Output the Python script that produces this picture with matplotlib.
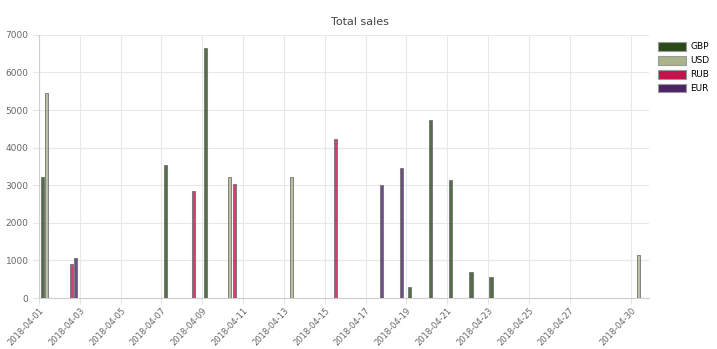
import matplotlib
matplotlib.use("Agg")
import matplotlib.pyplot as plt
import matplotlib.dates as mdates
from matplotlib.patches import Patch
from matplotlib.transforms import ScaledTranslation
import pandas as pd

# sales data
stamps = ["2018-04-01 04:00", "2018-04-01 08:30", "2018-04-02 13:40", "2018-04-02 18:40",
          "2018-04-07 04:20", "2018-04-08 13:10", "2018-04-09 04:00", "2018-04-10 08:20",
          "2018-04-10 13:30", "2018-04-13 08:30", "2018-04-15 12:30", "2018-04-17 18:20",
          "2018-04-18 18:00", "2018-04-19 04:00", "2018-04-20 04:00", "2018-04-21 03:30",
          "2018-04-22 04:00", "2018-04-23 03:30", "2018-04-30 08:40"]
amounts = [3230, 5450, 910, 1060, 3540, 2860, 6660, 3210, 3030, 3210, 4220, 3005,
           3465, 290, 4740, 3140, 690, 565, 1150]
currency = ["GBP", "USD", "RUB", "EUR", "GBP", "RUB", "GBP", "USD", "RUB", "USD", "RUB",
            "EUR", "EUR", "GBP", "GBP", "GBP", "GBP", "GBP", "USD"]

currencies = ["GBP", "USD", "RUB", "EUR"]
colors = {"GBP": "#2b4a1a", "USD": "#a9b48a", "RUB": "#c8104a", "EUR": "#4b2366"}

tick_days = ["2018-04-01", "2018-04-03", "2018-04-05", "2018-04-07", "2018-04-09",
             "2018-04-11", "2018-04-13", "2018-04-15", "2018-04-17", "2018-04-19",
             "2018-04-21", "2018-04-23", "2018-04-25", "2018-04-27", "2018-04-30"]

df = pd.DataFrame({"t": pd.to_datetime(stamps), "amount": amounts, "cur": currency})

fig = plt.figure(figsize=(7.17, 3.49), dpi=100)
ax = fig.add_axes([0.0544, 0.146, 0.851, 0.754])

for cur in currencies:
    sub = df[df.cur == cur]
    ax.bar(mdates.date2num(sub.t), sub.amount, width=0.15, color=colors[cur],
           alpha=0.8, edgecolor="#6e6e6e", linewidth=0.75, zorder=3)

ax.set_xlim(mdates.date2num(pd.Timestamp("2018-04-01")),
            mdates.date2num(pd.Timestamp("2018-04-30 21:30")))
ax.set_ylim(0, 7000)
ax.set_yticks(range(0, 7001, 1000))
ticks = mdates.date2num(pd.to_datetime(tick_days))
ax.set_xticks(ticks)
ax.set_xticklabels(tick_days, rotation=47, ha="right", va="top", rotation_mode="anchor")
shift = ScaledTranslation(12 / 100, 0, fig.dpi_scale_trans)
for lab in ax.get_xticklabels():
    lab.set_transform(lab.get_transform() + shift)
ax.tick_params(axis="x", labelsize=6, colors="#666666", length=4, color="#e4e4e4", pad=2)
ax.tick_params(axis="y", labelsize=6.5, colors="#666666", length=4, color="#e4e4e4")
ax.grid(True, color="#e8e8e8", linewidth=0.8, zorder=0)
for s in ["top", "right"]:
    ax.spines[s].set_visible(False)
for s in ["left", "bottom"]:
    ax.spines[s].set_color("#cfcfcf")

fig.text(0.502, 0.937, "Total sales", ha="center", va="center", fontsize=8, color="#444444")

handles = [Patch(facecolor=colors[c], edgecolor="#999999", linewidth=0.8, label=c) for c in currencies]
fig.legend(handles=handles, loc="upper left", bbox_to_anchor=(0.912, 0.89), frameon=False,
           fontsize=6.5, handlelength=3.2, handleheight=1.1, labelspacing=0.5,
           handletextpad=0.4, borderaxespad=0)

fig.savefig("out.png", dpi=100)
